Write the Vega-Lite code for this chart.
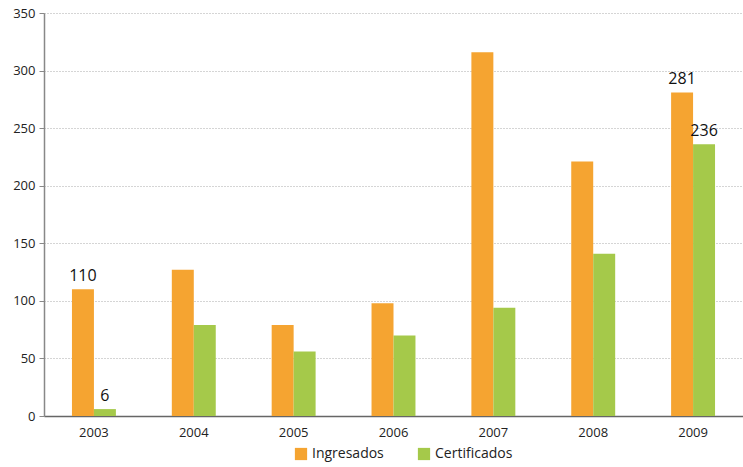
{
  "$schema": "https://vega.github.io/schema/vega-lite/v6.json",
  "width": 699,
  "height": 403,
  "autosize": {"type": "none"},
  "padding": {"left": 44, "top": 13, "right": 0, "bottom": 51},
  "background": "white",
  "config": {
    "font": "Open Sans",
    "view": {"stroke": null}
  },
  "data": {
    "values": [
      {"year": "2003", "serie": "Ingresados", "value": 110},
      {"year": "2003", "serie": "Certificados", "value": 6},
      {"year": "2004", "serie": "Ingresados", "value": 127},
      {"year": "2004", "serie": "Certificados", "value": 79},
      {"year": "2005", "serie": "Ingresados", "value": 79},
      {"year": "2005", "serie": "Certificados", "value": 56},
      {"year": "2006", "serie": "Ingresados", "value": 98},
      {"year": "2006", "serie": "Certificados", "value": 70},
      {"year": "2007", "serie": "Ingresados", "value": 316},
      {"year": "2007", "serie": "Certificados", "value": 94},
      {"year": "2008", "serie": "Ingresados", "value": 221},
      {"year": "2008", "serie": "Certificados", "value": 141},
      {"year": "2009", "serie": "Ingresados", "value": 281},
      {"year": "2009", "serie": "Certificados", "value": 236}
    ]
  },
  "encoding": {
    "x": {
      "field": "year", "type": "nominal",
      "scale": {"paddingInner": 0.56, "paddingOuter": 0.28},
      "axis": {
        "title": null, "labelAngle": 0, "ticks": false, "labelPadding": 10,
        "labelFontSize": 13, "labelColor": "#222", "domainColor": "#666", "domainWidth": 1.5
      }
    },
    "xOffset": {"field": "serie", "type": "nominal", "sort": ["Ingresados", "Certificados"], "scale": {"paddingInner": 0}},
    "y": {
      "field": "value", "type": "quantitative",
      "scale": {"domain": [0, 350], "nice": false},
      "axis": {
        "title": null, "values": [0, 50, 100, 150, 200, 250, 300, 350],
        "labelFontSize": 13, "labelColor": "#222", "domainColor": "#888", "domainWidth": 1.5,
        "tickColor": "#888", "tickSize": 5, "labelPadding": 4,
        "grid": true, "gridColor": "#aaa", "gridDash": [1, 2], "gridWidth": 1
      }
    }
  },
  "layer": [
    {
      "mark": {"type": "bar"},
      "encoding": {
        "color": {
          "field": "serie", "type": "nominal",
          "sort": ["Ingresados", "Certificados"],
          "scale": {"domain": ["Ingresados", "Certificados"], "range": ["#F5A431", "#A5C94A"]},
          "legend": {
            "title": null, "orient": "none", "direction": "horizontal",
            "legendX": 250, "legendY": 434,
            "symbolType": "square", "symbolSize": 150, "symbolStrokeWidth": 0,
            "labelFontSize": 14, "labelColor": "#222", "columnPadding": 33, "labelOffset": 4
          }
        }
      }
    },
    {
      "transform": [{"filter": "datum.year == '2003' || datum.year == '2009'"}],
      "mark": {"type": "text", "baseline": "bottom", "dy": -5, "fontSize": 16, "color": "#111"},
      "encoding": {
        "text": {"field": "value", "type": "quantitative"}
      }
    }
  ]
}
